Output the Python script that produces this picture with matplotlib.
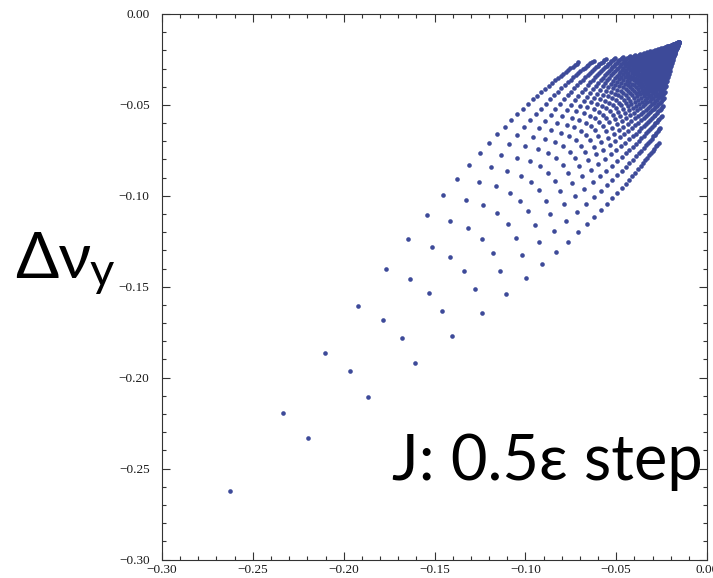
import numpy as np
import matplotlib
matplotlib.use("Agg")
import matplotlib.pyplot as plt
from matplotlib.ticker import MultipleLocator, FuncFormatter

# Action scan grid (units of the emittance epsilon), 0.5 epsilon step in both planes
action_J = [0.0, 0.5, 1.0, 1.5, 2.0, 2.5, 3.0, 3.5, 4.0, 4.5, 5.0, 5.5,
            6.0, 6.5, 7.0, 7.5, 8.0, 8.5, 9.0, 9.5, 10.0, 10.5, 11.0, 11.5,
            12.0, 12.5, 13.0, 13.5, 14.0, 14.5, 15.0, 15.5, 16.0, 16.5, 17.0]
# Linear beam-beam parameter (tune shift of the core particle)
xi = 0.2625

axis_ticks = [-0.30, -0.25, -0.20, -0.15, -0.10, -0.05, 0.00]
point_color = "#3d4a99"


def scaled_bessel(z):
    """exp(-z) I0(z) and exp(-z) (I0(z) - I1(z)) via the integral representation."""
    th = np.linspace(0.0, np.pi, 361)
    e = np.exp(np.multiply.outer(z, np.cos(th) - 1.0))
    g = np.trapezoid(e, th, axis=-1) / np.pi
    i1 = np.trapezoid(e * np.cos(th), th, axis=-1) / np.pi
    return g, g - i1


# Amplitude detuning of a round Gaussian beam-beam kick, averaged over betatron phases
alpha = np.asarray(action_J) / 2.0
nodes, weights = np.polynomial.legendre.leggauss(64)
t = 0.5 * (nodes + 1.0)
w = 0.5 * weights
g_t, h_t = scaled_bessel(np.multiply.outer(alpha, t))
F = (h_t * w) @ g_t.T          # F[i, j] = f(alpha_x = alpha_i, alpha_y = alpha_j)
dnu_x = -xi * F
dnu_y = -xi * F.T

fig = plt.figure(figsize=(7.13, 5.78), dpi=100)
W, H = 713.0, 578.0
left, right, top, bottom = 162.0, 707.0, 14.0, 559.5
ax = fig.add_axes([left / W, 1 - bottom / H, (right - left) / W, (bottom - top) / H])

ax.scatter(dnu_x.ravel(), dnu_y.ravel(), s=11, color=point_color,
           linewidths=0, zorder=3)

ax.set_xlim(-0.30, 0.0)
ax.set_ylim(-0.30, 0.0)
ax.set_xticks(axis_ticks)
ax.set_yticks(axis_ticks)
ax.xaxis.set_minor_locator(MultipleLocator(0.01))
ax.yaxis.set_minor_locator(MultipleLocator(0.01))
fmt = FuncFormatter(lambda v, p: ("\u2212%.2f" % abs(v)) if v < -1e-9 else "0.00")
ax.xaxis.set_major_formatter(fmt)
ax.yaxis.set_major_formatter(fmt)

ax.tick_params(which="both", direction="in", top=True, right=True,
               color="#333333", width=0.8)
ax.tick_params(which="major", length=5.5)
ax.tick_params(which="minor", length=3)
ax.tick_params(axis="x", which="major", pad=3)
ax.tick_params(axis="y", which="major", pad=9)
for lab in ax.get_xticklabels() + ax.get_yticklabels():
    lab.set_fontfamily("Liberation Serif")
    lab.set_fontsize(9.5)
    lab.set_color("#1a1a1a")
for sp in ax.spines.values():
    sp.set_color("#333333")
    sp.set_linewidth(0.8)

sans = ["Lato", "Noto Sans", "DejaVu Sans"]
fig.text(15 / W, 1 - 278 / H, "\u0394\u03bd", family=sans, fontsize=46,
         ha="left", va="baseline", color="black")
fig.text(90 / W, 1 - 286 / H, "y", family=sans, fontsize=34,
         ha="left", va="baseline", color="black")
fig.text(392 / W, 1 - 480 / H, "J: 0.5\u03b5 step", family=sans, fontsize=45.5,
         ha="left", va="baseline", color="black")

fig.savefig("out.png", dpi=100)
